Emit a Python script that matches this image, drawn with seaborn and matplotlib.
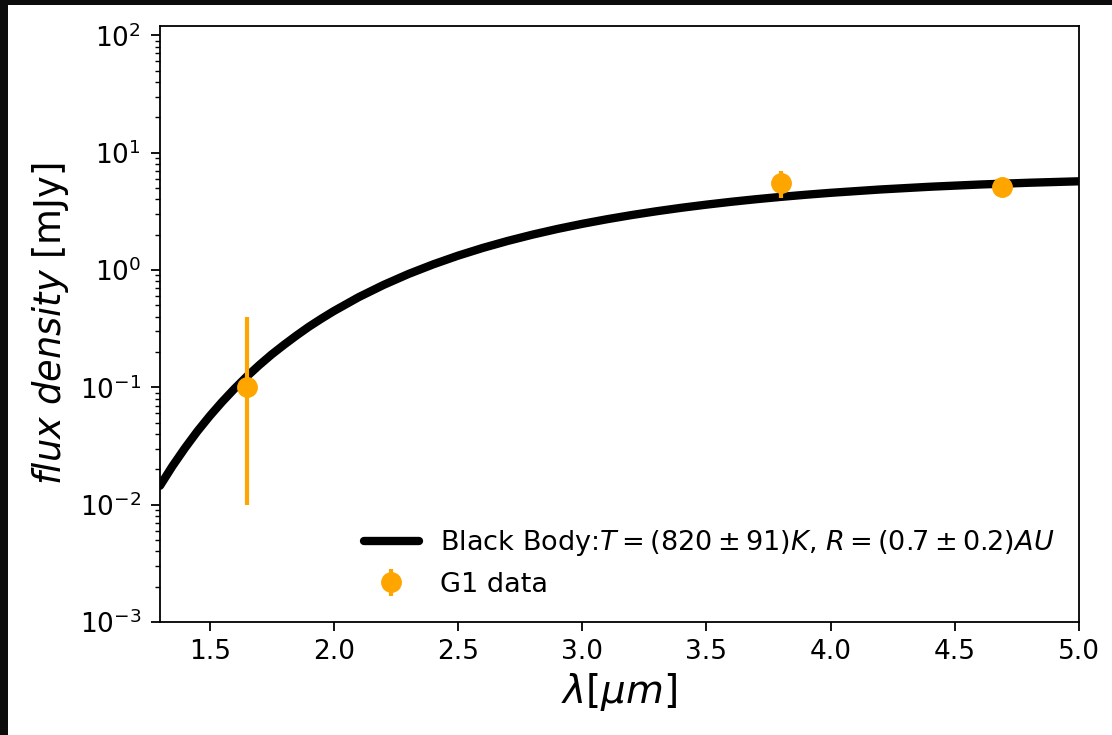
import matplotlib
matplotlib.use("Agg")
import matplotlib.pyplot as plt
import seaborn as sns
import pandas as pd
from matplotlib.patches import Rectangle

# black body curve
bb_wavelength = [1.30, 1.35, 1.40, 1.45, 1.50, 1.55, 1.60, 1.65, 1.70, 1.75,
                 1.80, 1.85, 1.90, 1.95, 2.0, 2.1, 2.2, 2.3, 2.4, 2.5, 2.6,
                 2.7, 2.8, 2.9, 3.0, 3.1, 3.2, 3.3, 3.4, 3.5, 3.6, 3.7, 3.8,
                 3.9, 4.0, 4.2, 4.4, 4.6, 4.8, 5.0]
bb_flux = [0.0145, 0.0213, 0.0303, 0.0421, 0.0569, 0.0752, 0.0974, 0.124,
           0.155, 0.191, 0.231, 0.277, 0.329, 0.385, 0.447, 0.587, 0.746,
           0.924, 1.117, 1.325, 1.543, 1.769, 2.002, 2.238, 2.474, 2.709,
           2.942, 3.169, 3.392, 3.606, 3.813, 4.011, 4.199, 4.378, 4.547,
           4.855, 5.122, 5.351, 5.542, 5.700]

# G1 data points
g1_wavelength = [1.65, 3.8, 4.69]
g1_flux = [0.1, 5.5, 5.1]
g1_err_low = [0.09, 1.4, 0.3]
g1_err_high = [0.3, 1.5, 0.3]

bb_label = r"Black Body:$T=(820\pm91)K$, $R=(0.7\pm0.2)AU$"

sns.set_style("ticks")
plt.rcParams["font.family"] = ["DejaVu Sans"]
plt.rcParams["axes.edgecolor"] = "black"
plt.rcParams["axes.labelcolor"] = "black"
plt.rcParams["text.color"] = "black"
plt.rcParams["xtick.color"] = "black"
plt.rcParams["ytick.color"] = "black"

fig = plt.figure(figsize=(11.12, 7.35), dpi=100, facecolor="#0c0c0c")
# white panel inside the dark border of the screenshot
fig.add_artist(Rectangle((8 / 1112, 0), 1, 1 - 5 / 735, transform=fig.transFigure,
                         facecolor="white", edgecolor="none", zorder=-10))
ax = fig.add_axes([0.1439, 0.1537, 0.8264, 0.8109])

bb_df = pd.DataFrame({"wavelength": bb_wavelength, "flux": bb_flux})
sns.lineplot(data=bb_df, x="wavelength", y="flux", color="black", linewidth=6,
             label=bb_label, ax=ax, zorder=2)

ax.errorbar(g1_wavelength, g1_flux, yerr=[g1_err_low, g1_err_high], fmt="o",
            color="orange", markersize=14, elinewidth=3, capsize=0,
            label="G1 data", zorder=3)

ax.set_yscale("log")
ax.set_xlim(1.3, 5.0)
ax.set_ylim(1e-3, 1.2e2)
ax.set_xlabel(r"$\lambda [\mu m]$", fontsize=28, labelpad=4)
ax.set_ylabel(r"$\it{flux\ density}$ [mJy]", fontsize=26.5, labelpad=6)
ax.tick_params(axis="both", which="major", labelsize=19, length=6.5, width=1.3)
ax.tick_params(axis="x", which="major", pad=6)
ax.tick_params(axis="y", which="major", pad=7)
ax.tick_params(axis="y", which="minor", length=3.5, width=1)
for s in ax.spines.values():
    s.set_linewidth(1.3)

ax.legend(loc="lower right", frameon=False, fontsize=19.5)

fig.savefig("out.png", dpi=100, facecolor=fig.get_facecolor())
